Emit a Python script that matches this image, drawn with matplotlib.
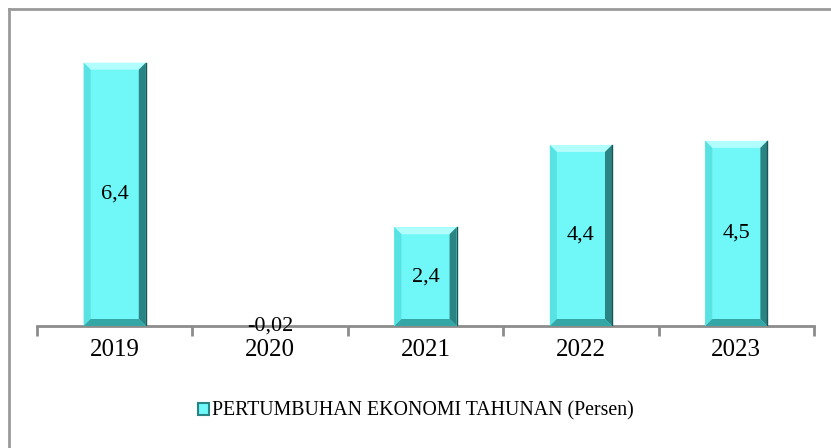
import matplotlib
matplotlib.use('Agg')
import matplotlib.pyplot as plt
import matplotlib.patches as mpatches
import matplotlib.lines as mlines
import numpy as np

years = ['2019', '2020', '2021', '2022', '2023']
growth = [6.4, -0.02, 2.4, 4.4, 4.5]
growth_labels = ['6,4', '-0,02', '2,4', '4,4', '4,5']
series_name = 'PERTUMBUHAN EKONOMI TAHUNAN (Persen)'

plt.rcParams['font.family'] = ['Liberation Serif', 'DejaVu Serif']

face = '#70f7f7'
top_c = '#b2fdfd'
left_c = '#58e2e2'
right_c = '#2a8484'
bot_c = '#34a6a6'

fig = plt.figure(figsize=(8.31, 4.48), dpi=100)
ax = fig.add_axes([37 / 831, 1 - 326 / 448, (814 - 37) / 831, (326 - 38) / 448])

ind = np.arange(len(years))
width = 0.4
ax.set_xlim(-0.5, len(years) - 0.5)
ax.set_ylim(0, 7)

bars = ax.bar(ind, growth, width, color=face, edgecolor='none', zorder=2)

# bevel size in data units, from pixel size
px_x = 1.0 / ((814 - 37) / 5.0)
px_y = 7.0 / (326 - 38)
bx = 7 * px_x
by = 7 * px_y
for r in bars:
    x0 = r.get_x()
    x1 = x0 + r.get_width()
    y0 = min(r.get_y(), r.get_y() + r.get_height())
    y1 = max(r.get_y(), r.get_y() + r.get_height())
    if y1 - y0 < 2 * by:
        continue
    polys = [
        ([(x0, y1), (x1, y1), (x1 - bx, y1 - by), (x0 + bx, y1 - by)], top_c),
        ([(x0, y0), (x0, y1), (x0 + bx, y1 - by), (x0 + bx, y0 + by)], left_c),
        ([(x1, y0), (x1, y1), (x1 - bx, y1 - by), (x1 - bx, y0 + by)], right_c),
        ([(x0, y0), (x1, y0), (x1 - bx, y0 + by), (x0 + bx, y0 + by)], bot_c),
    ]
    for pts, c in polys:
        ax.add_patch(mpatches.Polygon(pts, closed=True, facecolor=c,
                                      edgecolor='none', zorder=3))
    ax.plot([x1, x1], [y0, y1], color='#1c5555', lw=1, zorder=4)

for i, v in enumerate(growth):
    ax.text(ind[i], v / 2, growth_labels[i], ha='center', va='center',
            fontsize=16, color='black', zorder=5)

for s in ['top', 'right', 'left']:
    ax.spines[s].set_visible(False)
ax.spines['bottom'].set_color('#8c8c8c')
ax.spines['bottom'].set_linewidth(2)
ax.spines['bottom'].set_zorder(1)
ax.set_yticks([])
ax.set_xticks(ind)
ax.set_xticklabels(years, fontsize=18)
ax.tick_params(axis='x', which='major', length=0, pad=9)
ax.set_xticks(np.arange(-0.5, len(years)), minor=True)
ax.tick_params(axis='x', which='minor', length=7, width=2, color='#8c8c8c')

# legend
handle = mpatches.Rectangle((0, 0), 1, 1, facecolor=face, edgecolor=right_c, lw=1.5)
fig.legend([handle], [series_name], loc='center', bbox_to_anchor=(0.5, 1 - 411 / 448),
           frameon=False, fontsize=14.3, handlelength=0.55, handleheight=0.55,
           handletextpad=0.15)

# outer frame (left and top only)
fig.add_artist(mlines.Line2D([9 / 831, 9 / 831], [0, 1 - 9 / 448],
                             transform=fig.transFigure, color='#9a9a9a', lw=2))
fig.add_artist(mlines.Line2D([9 / 831, 1], [1 - 9.5 / 448, 1 - 9.5 / 448],
                             transform=fig.transFigure, color='#9a9a9a', lw=2))

plt.savefig('out.png', dpi=100)
